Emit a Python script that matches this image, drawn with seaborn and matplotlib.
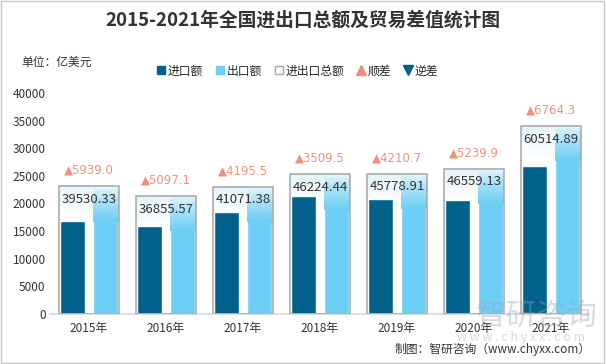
import numpy as np
import pandas as pd
import seaborn as sns
import matplotlib.pyplot as plt
from matplotlib.lines import Line2D
from matplotlib.colors import LinearSegmentedColormap
from matplotlib.patches import Rectangle

# 数据 (亿美元)
years = ['2015年', '2016年', '2017年', '2018年', '2019年', '2020年', '2021年']
total = [39530.33, 36855.57, 41071.38, 46224.44, 45778.91, 46559.13, 60514.89]
surplus = [5939.0, 5097.1, 4195.5, 3509.5, 4210.7, 5239.9, 6764.3]

exports = [(t + s) / 2 for t, s in zip(total, surplus)]
imports = [(t - s) / 2 for t, s in zip(total, surplus)]

c_imp = '#00628A'
c_exp = '#6DCFF6'
c_up = '#F0907A'

sns.set_theme(style='white')
plt.rcParams['font.family'] = ['Noto Sans CJK SC', 'DejaVu Sans']

fig = plt.figure(figsize=(6.06, 3.64), dpi=100)
ax = fig.add_axes([0.0833, 0.1374, 0.8894, 0.6071])

# 进出口总额外框
df_box = pd.DataFrame({'year': years, 'h': [e + 400 for e in exports]})
sns.barplot(data=df_box, x='year', y='h', color='white', width=0.77,
            linewidth=0, saturation=1, ax=ax, zorder=1)
n_box = len(ax.patches)

# 外框内淡色渐变
box_cm = LinearSegmentedColormap.from_list('b', ['white', '#E4F5FB'])
for p in ax.patches[:n_box]:
    x0 = p.get_x()
    x1 = x0 + p.get_width()
    top = p.get_height()
    img = np.linspace(1, 0, 50).reshape(-1, 1)
    ax.imshow(img, cmap=box_cm, aspect='auto', extent=[x0, x1, top - 6000, top],
              zorder=1.5, vmin=0, vmax=1)

# 进口额 / 出口额
df = pd.DataFrame({
    'year': years * 2,
    'value': imports + exports,
    'type': ['进口额'] * len(years) + ['出口额'] * len(years),
})
sns.barplot(data=df, x='year', y='value', hue='type', palette=[c_imp, c_exp],
            width=0.85, gap=0.22, saturation=1, legend=False, ax=ax, zorder=2)

# 出口额顶部渐变
grad = LinearSegmentedColormap.from_list('g', ['#E2F4FB', c_exp])
exp_patches = ax.patches[n_box + len(years):]
for p in exp_patches:
    x0 = p.get_x()
    x1 = x0 + p.get_width()
    top = p.get_height()
    img = np.linspace(0, 1, 50).reshape(-1, 1) ** 0.8
    ax.imshow(img, cmap=grad, aspect='auto', extent=[x0, x1, top - 6000, top],
              zorder=3, vmin=0, vmax=1)

# 外框边线
sns.barplot(data=df_box, x='year', y='h', fill=False, width=0.77,
            edgecolor='#A6A6A6', linewidth=1.1, ax=ax, zorder=4)

# 标注
for i, (t, s, h) in enumerate(zip(total, surplus, exports)):
    ax.text(i, h - 2000, f'{t:.2f}', ha='center', va='center', fontsize=9.5,
            color='#333333', zorder=5)
    ax.text(i, h + 3300, f'▲{s:.1f}', ha='center', va='center', fontsize=8.5,
            color=c_up, zorder=5, family=['DejaVu Sans'])

ax.set_xlim(-0.5, 6.5)
ax.set_ylim(0, 40000)
ax.set_yticks(range(0, 40001, 5000))
ax.set_xlabel('')
ax.set_ylabel('')
ax.tick_params(axis='both', length=0, labelsize=8.5, colors='#333333')
ax.tick_params(axis='x', pad=6)
for sp in ['top', 'right', 'left']:
    ax.spines[sp].set_visible(False)
ax.spines['bottom'].set_color('#D9D9D9')

# 标题与单位
fig.text(0.5, 0.945, '2015-2021年全国进出口总额及贸易差值统计图', ha='center',
         va='center', fontsize=13.5, fontweight='bold', color='#333333')
fig.text(0.035, 0.83, '单位：亿美元', ha='left', va='center', fontsize=8.5,
         color='#333333')

# 图例
handles = [
    Line2D([], [], ls='', marker='s', color=c_imp, markersize=6),
    Line2D([], [], ls='', marker='s', color=c_exp, markersize=6),
    Line2D([], [], ls='', marker='s', markerfacecolor='white',
           markeredgecolor='#A6A6A6', markersize=6),
    Line2D([], [], ls='', marker='^', color=c_up, markersize=7),
    Line2D([], [], ls='', marker='v', color=c_imp, markersize=7),
]
labels = ['进口额', '出口额', '进出口总额', '顺差', '逆差']
fig.legend(handles, labels, loc='center', bbox_to_anchor=(0.49, 0.805), ncol=5,
           frameon=False, fontsize=8.5, handletextpad=0.1, columnspacing=1.0,
           handlelength=0.9)

# 水印与来源
fig.text(0.885, 0.13, '智研咨询', ha='center', va='center', fontsize=22,
         color='#9AA3B5', alpha=0.4, zorder=10)
fig.text(0.86, 0.072, 'w w w . c h y x x . c o m', ha='center', va='center',
         fontsize=9, color='#9AA3B5', alpha=0.4, zorder=10)
fig.text(0.975, 0.04, '制图：智研咨询（www.chyxx.com）', ha='right', va='center',
         fontsize=8.5, color='#333333')

fig.patches.append(Rectangle((0.002, 0.003), 0.995, 0.994, transform=fig.transFigure,
                             fill=False, edgecolor='#C8C8C8', linewidth=1))

fig.savefig('out.png', dpi=100)
